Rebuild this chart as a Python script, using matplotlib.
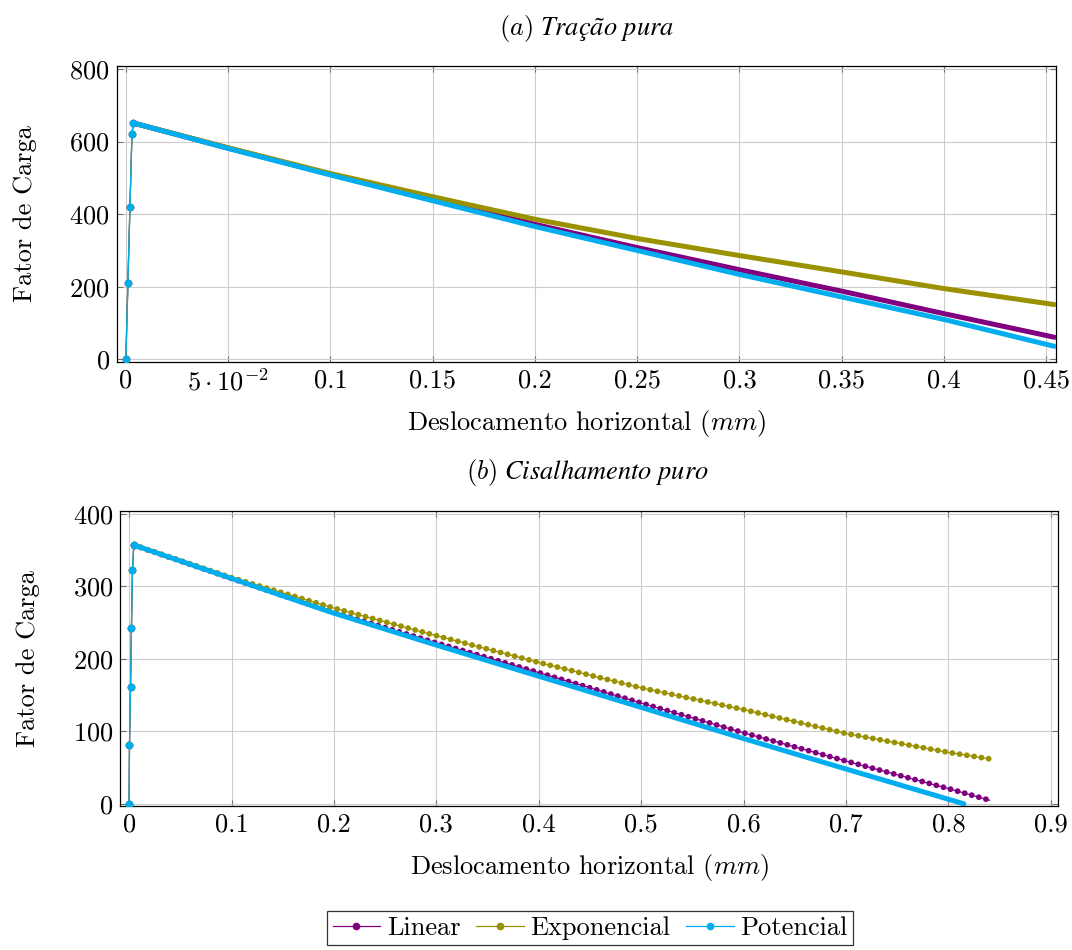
"""
Fator de carga x deslocamento horizontal: tracao pura e cisalhamento puro.
"""
import matplotlib
matplotlib.use('Agg')
import matplotlib.pyplot as plt

plt.rcParams['font.family'] = ['cmr10', 'DejaVu Serif']
plt.rcParams['mathtext.fontset'] = 'cm'
plt.rcParams['axes.formatter.use_mathtext'] = True
plt.rcParams['axes.unicode_minus'] = False

# (a) Tracao pura
rise_x_a = [0.0, 0.001, 0.002, 0.003]
rise_y_a = [0, 210, 420, 622]
soft_x_a = [0.0037, 0.05, 0.1, 0.15, 0.2, 0.25, 0.3, 0.35, 0.4, 0.454]
lin_a = [651, 582, 510, 441, 372, 308, 247, 188, 126, 61]
exp_a = [651, 583, 512, 448, 386, 333, 286, 241, 195, 151]
pot_a = [651, 581, 508, 437, 366, 300, 234, 172, 110, 36]
xticks_a = [0, 0.05, 0.1, 0.15, 0.2, 0.25, 0.3, 0.35, 0.4, 0.45]
xlabels_a = ['0', r'$5\cdot10^{-2}$', '0.1', '0.15', '0.2', '0.25', '0.3', '0.35', '0.4', '0.45']
yticks_a = [0, 200, 400, 600, 800]

# (b) Cisalhamento puro
rise_x_b = [0.0, 0.0004, 0.0014, 0.0023, 0.0033]
rise_y_b = [0, 81, 161, 242, 322]
soft_x_b = [0.0046, 0.1, 0.2, 0.3, 0.4, 0.5, 0.6, 0.7, 0.8, 0.84]
lin_b = [357, 311, 264, 222, 181, 139, 98, 59, 21, 5]
exp_b = [357, 312, 270, 232, 195, 160, 130, 97, 71, 62]
pot_x_b = [0.0046, 0.1, 0.2, 0.3, 0.4, 0.5, 0.6, 0.7, 0.815]
pot_b = [357, 311, 263, 219, 176, 133, 90, 48, 0]
xticks_b = [0, 0.1, 0.2, 0.3, 0.4, 0.5, 0.6, 0.7, 0.8, 0.9]
xlabels_b = ['0', '0.1', '0.2', '0.3', '0.4', '0.5', '0.6', '0.7', '0.8', '0.9']
yticks_b = [0, 100, 200, 300, 400]

names = ['Linear', 'Exponencial', 'Potencial']
colors = ['#800080', '#9a9100', '#00aeef']

FS = 19


def draw_series(ax, rx, ry, sx, sy, color, label, dotted=False):
    x = rx + sx
    y = ry + sy
    n = len(rx) + 1
    line, = ax.plot(x, y, color=color, lw=0.9, marker='o', ms=4.5,
                    markevery=list(range(n)), label=label, zorder=3)
    if dotted:
        ax.plot(sx, sy, color=color, lw=4.2, linestyle=(0, (0.01, 1.25)),
                dash_capstyle='round', zorder=3)
    else:
        ax.plot(sx, sy, color=color, lw=3.6, solid_capstyle='round', zorder=3)
    return line


def style_axes(ax, xticks, xlabels, yticks, xlab_y):
    ax.set_xticks(xticks)
    ax.set_xticklabels(xlabels)
    ax.set_yticks(yticks)
    ax.tick_params(direction='in', top=True, right=True, length=4,
                   color='#707070', labelsize=FS, pad=5)
    ax.grid(True, color='#cccccc', lw=0.8)
    ax.set_axisbelow(True)
    for s in ax.spines.values():
        s.set_linewidth(0.9)
        s.set_color('black')
    ax.set_xlabel('Deslocamento horizontal ($mm$)', fontsize=FS, va='center')
    ax.set_ylabel('Fator de Carga', fontsize=FS, va='center')
    ax.xaxis.set_label_coords(0.5, xlab_y)
    ax.yaxis.set_label_coords(-0.098, 0.5)


fig = plt.figure(figsize=(10.72, 9.5), dpi=100)
ax1 = fig.add_axes([0.109, 0.619, 0.876, 0.3115])
ax2 = fig.add_axes([0.112, 0.1516, 0.875, 0.3105])

draw_series(ax1, rise_x_a, rise_y_a, soft_x_a, lin_a, colors[0], names[0])
draw_series(ax1, rise_x_a, rise_y_a, soft_x_a, exp_a, colors[1], names[1])
draw_series(ax1, rise_x_a, rise_y_a, soft_x_a, pot_a, colors[2], names[2])
ax1.set_xlim(-0.0044, 0.4547)
ax1.set_ylim(-7, 808)
style_axes(ax1, xticks_a, xlabels_a, yticks_a, -0.2095)

handles = []
handles.append(draw_series(ax2, rise_x_b, rise_y_b, soft_x_b, lin_b, colors[0], names[0], dotted=True))
handles.append(draw_series(ax2, rise_x_b, rise_y_b, soft_x_b, exp_b, colors[1], names[1], dotted=True))
handles.append(draw_series(ax2, rise_x_b, rise_y_b, pot_x_b, pot_b, colors[2], names[2]))
ax2.set_xlim(-0.0088, 0.907)
ax2.set_ylim(-3, 404)
style_axes(ax2, xticks_b, xlabels_b, yticks_b, -0.21)

fig.text(0.5476, 1 - 28 / 950, r'$(a)$ Tração pura', fontsize=FS, ha='center', va='center',
         family='STIXGeneral', style='italic')
fig.text(0.5476, 1 - 472 / 950, r'$(b)$ Cisalhamento puro', fontsize=FS, ha='center', va='center',
         family='STIXGeneral', style='italic')

leg = fig.legend(handles, names, loc='center', bbox_to_anchor=(0.5505, 1 - 928 / 950),
                 ncol=3, fontsize=FS, frameon=True, fancybox=False, edgecolor='black',
                 handlelength=1.8, handletextpad=0.25, columnspacing=0.6,
                 borderpad=0.2, numpoints=1, borderaxespad=0)
leg.get_frame().set_linewidth(0.9)

fig.savefig('out.png', dpi=100)
